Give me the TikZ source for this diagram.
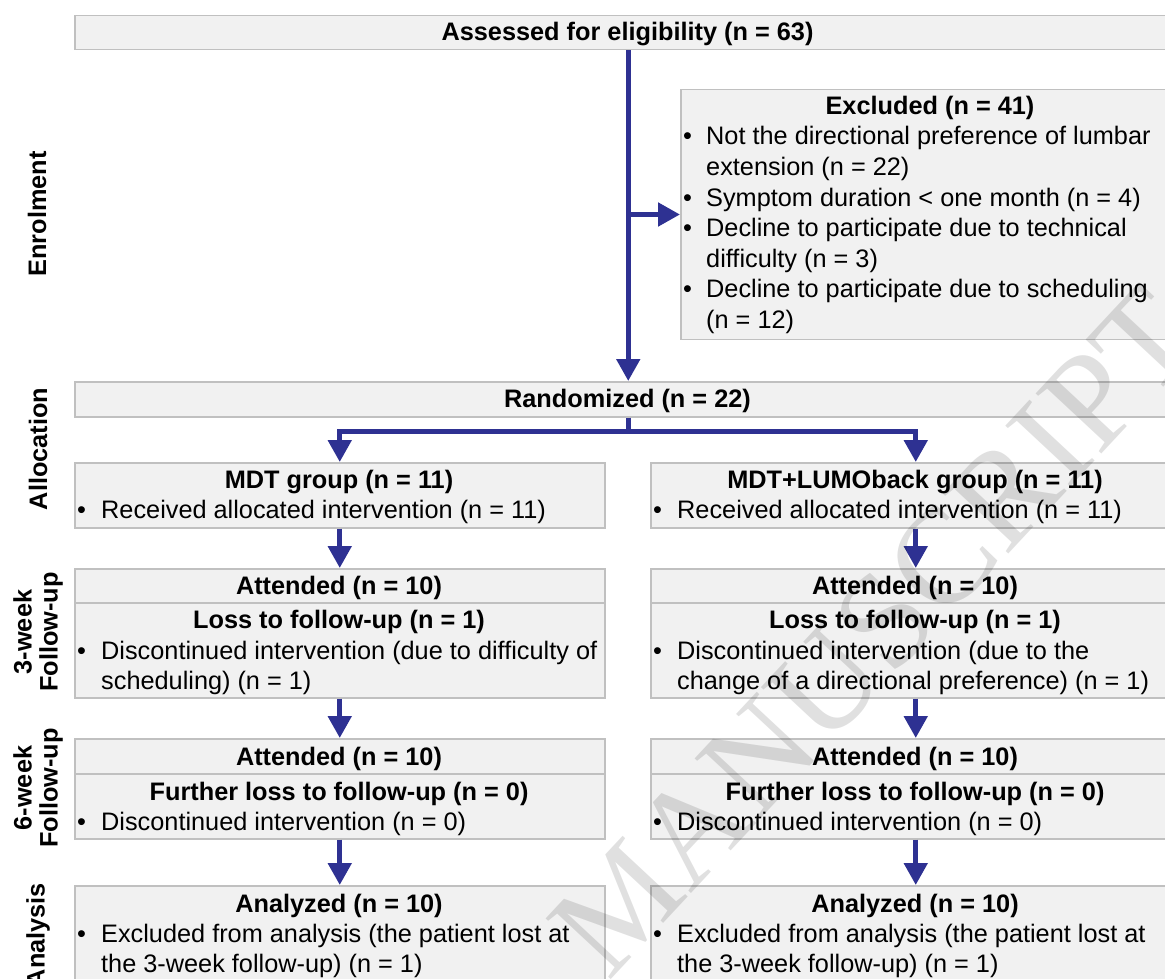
\documentclass[tikz,border=0pt]{standalone}
\usepackage{fontspec}
\setmainfont{Liberation Sans}
\newfontfamily\wmfont{Liberation Serif}
\usetikzlibrary{arrows.meta}
\definecolor{flowblue}{RGB}{46,49,146}
\definecolor{boxfill}{RGB}{241,241,241}
\definecolor{boxline}{RGB}{192,192,192}
\begin{document}
\begin{tikzpicture}[x=1pt,y=-1pt,
  box/.style={draw=boxline, line width=1.5pt, fill=boxfill, rectangle, inner sep=0pt, anchor=north west},
  flow/.style={draw=flowblue, line width=5pt, -{Triangle[length=22pt,width=23pt]}},
  link/.style={draw=flowblue, line width=5pt},
  txt/.style={font=\fontsize{25.3}{30.5}\selectfont, inner sep=0pt, anchor=base west},
  head/.style={font=\fontsize{25.3}{30.5}\selectfont\bfseries, inner sep=0pt, anchor=base},
  side/.style={font=\fontsize{25.3}{26}\selectfont\bfseries, inner sep=0pt, rotate=90, align=center},
  wm/.style={font=\fontsize{136}{136}\wmfont, rotate=47, text=black, opacity=0.12, inner sep=0pt}
]
\useasboundingbox (0,0) rectangle (1165,979);
\fill[white] (0,0) rectangle (1165,979);
\begin{scope}
\clip (0,0) rectangle (1165,979);

% ---- boxes
\node[box, minimum width=1107pt, minimum height=34pt] (assess) at (74,15) {};
\node[box, minimum width=500pt, minimum height=249.5pt] (excl) at (680,89) {};
\node[box, minimum width=1107pt, minimum height=35pt] (rand) at (74,381) {};
\node[box, minimum width=530pt, minimum height=65pt] (mdtL) at (74,462) {};
\node[box, minimum width=530pt, minimum height=65pt] (mdtR) at (650,462) {};
\node[box, minimum width=530pt, minimum height=34pt] (attAL) at (74,568) {};
\node[box, minimum width=530pt, minimum height=34pt] (attAR) at (650,568) {};
\node[box, minimum width=530pt, minimum height=95pt] (lossL) at (74,602) {};
\node[box, minimum width=530pt, minimum height=95pt] (lossR) at (650,602) {};
\node[box, minimum width=530pt, minimum height=35pt] (attBL) at (74,738) {};
\node[box, minimum width=530pt, minimum height=35pt] (attBR) at (650,738) {};
\node[box, minimum width=530pt, minimum height=65pt] (furL) at (74,773) {};
\node[box, minimum width=530pt, minimum height=65pt] (furR) at (650,773) {};
\node[box, minimum width=530pt, minimum height=120pt] (anaL) at (74,885) {};
\node[box, minimum width=530pt, minimum height=120pt] (anaR) at (650,885) {};

% ---- texts
\node[head] (tAssess) at (627.5,41) {Assessed for eligibility (n = 63)};

\node[head] (tExH) at (930,115) {Excluded (n = 41)};
\node[txt] (bEx1) at (683,145) {•};
\node[txt] (tEx1) at (706,145) {Not the directional preference of lumbar};
\node[txt] (tEx1b) at (706,175.5) {extension (n = 22)};
\node[txt] (bEx2) at (683,206) {•};
\node[txt] (tEx2) at (706,206) {Symptom duration < one month (n = 4)};
\node[txt] (bEx3) at (683,236.5) {•};
\node[txt] (tEx3) at (706,236.5) {Decline to participate due to technical};
\node[txt] (tEx3b) at (706,267) {difficulty (n = 3)};
\node[txt] (bEx4) at (683,297.5) {•};
\node[txt] (tEx4) at (706,297.5) {Decline to participate due to scheduling};
\node[txt] (tEx4b) at (706,328) {(n = 12)};

\node[head] (tRand) at (627.5,407) {Randomized (n = 22)};

\node[head] (tMdtL) at (339,488) {MDT group (n = 11)};
\node[txt] (bMdtL) at (77,518) {•};
\node[txt] (tMdtL2) at (101,518) {Received allocated intervention (n = 11)};
\node[head] (tMdtR) at (915,488) {MDT+LUMOback group (n = 11)};
\node[txt] (bMdtR) at (653,518) {•};
\node[txt] (tMdtR2) at (677,518) {Received allocated intervention (n = 11)};

\node[head] (tAttAL) at (339,594) {Attended (n = 10)};
\node[head] (tAttAR) at (915,594) {Attended (n = 10)};

\node[head] (tLossL) at (339,628) {Loss to follow-up (n = 1)};
\node[txt] (bLossL) at (77,659) {•};
\node[txt] (tLossL1) at (101,659) {Discontinued intervention (due to difficulty of};
\node[txt] (tLossL2) at (101,689) {scheduling) (n = 1)};
\node[head] (tLossR) at (915,628) {Loss to follow-up (n = 1)};
\node[txt] (bLossR) at (653,659) {•};
\node[txt] (tLossR1) at (677,659) {Discontinued intervention (due to the};
\node[txt] (tLossR2) at (677,689) {change of a directional preference) (n = 1)};

\node[head] (tAttBL) at (339,765) {Attended (n = 10)};
\node[head] (tAttBR) at (915,765) {Attended (n = 10)};

\node[head] (tFurL) at (339,800) {Further loss to follow-up (n = 0)};
\node[txt] (bFurL) at (77,830) {•};
\node[txt] (tFurL1) at (101,830) {Discontinued intervention (n = 0)};
\node[head] (tFurR) at (915,800) {Further loss to follow-up (n = 0)};
\node[txt] (bFurR) at (653,830) {•};
\node[txt] (tFurR1) at (677,830) {Discontinued intervention (n = 0)};

\node[head] (tAnaL) at (339,912) {Analyzed (n = 10)};
\node[txt] (bAnaL) at (77,942) {•};
\node[txt] (tAnaL1) at (101,942) {Excluded from analysis (the patient lost at};
\node[txt] (tAnaL2) at (101,972) {the 3-week follow-up) (n = 1)};
\node[head] (tAnaR) at (915,912) {Analyzed (n = 10)};
\node[txt] (bAnaR) at (653,942) {•};
\node[txt] (tAnaR1) at (677,942) {Excluded from analysis (the patient lost at};
\node[txt] (tAnaR2) at (677,972) {the 3-week follow-up) (n = 1)};

% ---- side labels
\node[side] (sEnrol) at (37,214) {Enrolment};
\node[side] (sAlloc) at (38,449) {Allocation};
\node[side] (s3w) at (38,632) {3-week\\Follow-up};
\node[side] (s6w) at (38,788) {6-week\\Follow-up};
\node[side] (sAna) at (38,935) {Analysis};

% ---- connectors
\draw[flow] (assess.south) -- (rand.north);
\draw[flow] (assess.south |- excl.west) -- (excl.west);
\draw[link] (rand.south) -- ++(0,14) coordinate (split);
\draw[flow] (split) -| (mdtL.north);
\draw[flow] (split) -| (mdtR.north);
\draw[flow] (mdtL.south) -- (attAL.north);
\draw[flow] (mdtR.south) -- (attAR.north);
\draw[flow] (lossL.south) -- (attBL.north);
\draw[flow] (lossR.south) -- (attBR.north);
\draw[flow] (furL.south) -- (anaL.north);
\draw[flow] (furR.south) -- (anaR.north);

% ---- watermark
\node[wm] (wmark) at (875,632) {MANUSCRIPT};
\end{scope}
\end{tikzpicture}
\end{document}
